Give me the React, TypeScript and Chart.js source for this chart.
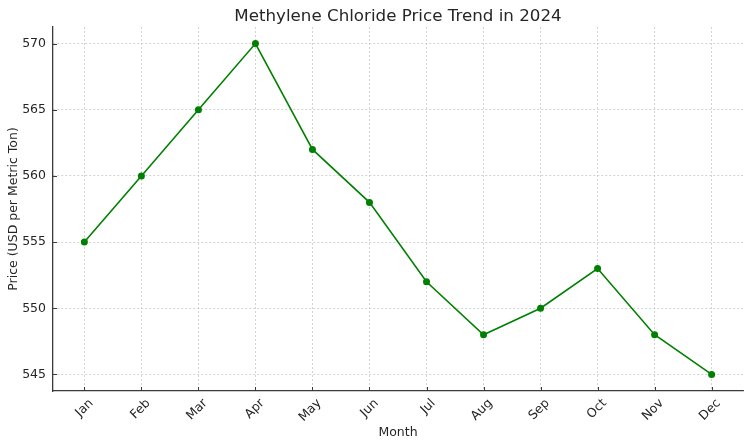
import React, { useEffect, useRef } from "react";
import { Chart, registerables } from "chart.js";
Chart.register(...registerables);

const months = ["Jan", "Feb", "Mar", "Apr", "May", "Jun", "Jul", "Aug", "Sep", "Oct", "Nov", "Dec"];
const prices = [555, 560, 565, 570, 562, 558, 552, 548, 550, 553, 548, 545];
const yTicks = [545, 550, 555, 560, 565, 570];
const titleText = "Methylene Chloride Price Trend in 2024";
const xTitle = "Month";
const yTitle = "Price (USD per Metric Ton)";

const FONT = "'DejaVu Sans', sans-serif";
const TEXT = "#262626";
const AXIS = "#3a3a3a";
const GRID = "#c8c8c8";
const FS = 12.5;

const inwardTicks = {
  id: "inwardTicks",
  afterDatasetsDraw(chart: any) {
    const { ctx, chartArea, scales } = chart;
    const x = scales.x;
    const y = scales.y;
    ctx.save();
    ctx.strokeStyle = AXIS;
    ctx.lineWidth = 1;
    x.ticks.forEach((t: any) => {
      const px = Math.round(x.getPixelForValue(t.value)) + 0.5;
      ctx.beginPath();
      ctx.moveTo(px, chartArea.bottom);
      ctx.lineTo(px, chartArea.bottom - 4);
      ctx.stroke();
    });
    y.ticks.forEach((t: any) => {
      const py = Math.round(y.getPixelForValue(t.value)) + 0.5;
      ctx.beginPath();
      ctx.moveTo(chartArea.left, py);
      ctx.lineTo(chartArea.left + 4, py);
      ctx.stroke();
    });
    ctx.restore();
  },
};

const plotTitle = {
  id: "plotTitle",
  afterDraw(chart: any) {
    const { ctx, chartArea } = chart;
    ctx.save();
    ctx.fillStyle = TEXT;
    ctx.font = `16.7px ${FONT}`;
    ctx.textAlign = "center";
    ctx.textBaseline = "alphabetic";
    ctx.fillText(titleText, (chartArea.left + chartArea.right) / 2, 21);
    ctx.restore();
  },
};

export default function App() {
  const ref = useRef<HTMLCanvasElement>(null);
  useEffect(() => {
    if (!ref.current) return;
    const chart = new Chart(ref.current, {
      type: "line",
      data: {
        datasets: [
          {
            data: prices.map((v, i) => ({ x: i, y: v })),
            borderColor: "#008000",
            backgroundColor: "#008000",
            borderWidth: 1.6,
            pointRadius: 3.5,
            pointBorderWidth: 0,
            pointBackgroundColor: "#008000",
            tension: 0,
          },
        ],
      },
      options: {
        animation: false,
        responsive: true,
        maintainAspectRatio: false,
        layout: { padding: { left: 0, right: 7, top: 27, bottom: 0 } },
        plugins: {
          legend: { display: false },
          tooltip: { enabled: false },
          title: { display: false },
        },
        scales: {
          x: {
            type: "linear",
            min: -0.55,
            max: 11.55,
            afterFit: (s: any) => {
              s.height = 56;
            },
            afterBuildTicks: (s: any) => {
              s.ticks = months.map((_, i) => ({ value: i }));
            },
            ticks: {
              callback: (v: any) => months[v as number] ?? "",
              color: TEXT,
              font: { family: FONT, size: FS },
              minRotation: 45,
              maxRotation: 45,
              autoSkip: false,
              padding: 5,
              labelOffset: 7,
            },
            grid: { color: GRID, lineWidth: 0.8, drawTicks: false },
            border: { display: true, color: AXIS, width: 1.3, dash: [2, 2] },
            title: {
              display: true,
              text: xTitle,
              color: TEXT,
              font: { family: FONT, size: FS },
              padding: { top: 0, bottom: 7 },
            },
          },
          y: {
            min: 543.75,
            max: 571.25,
            afterFit: (s: any) => {
              s.width = 53;
            },
            afterBuildTicks: (s: any) => {
              s.ticks = yTicks.map((v) => ({ value: v }));
            },
            ticks: {
              color: TEXT,
              font: { family: FONT, size: FS },
              padding: 7,
            },
            grid: { color: GRID, lineWidth: 0.8, drawTicks: false },
            border: { display: true, color: AXIS, width: 1.3, dash: [2, 2] },
            title: {
              display: true,
              text: yTitle,
              color: TEXT,
              font: { family: FONT, size: FS },
              padding: { top: 6, bottom: 0 },
            },
          },
        },
      },
      plugins: [inwardTicks, plotTitle],
    });
    return () => chart.destroy();
  }, []);
  return (
    <div style={{ position: "fixed", left: 0, top: 0, width: 750, height: 447, background: "#fff" }}>
      <canvas ref={ref} />
    </div>
  );
}
